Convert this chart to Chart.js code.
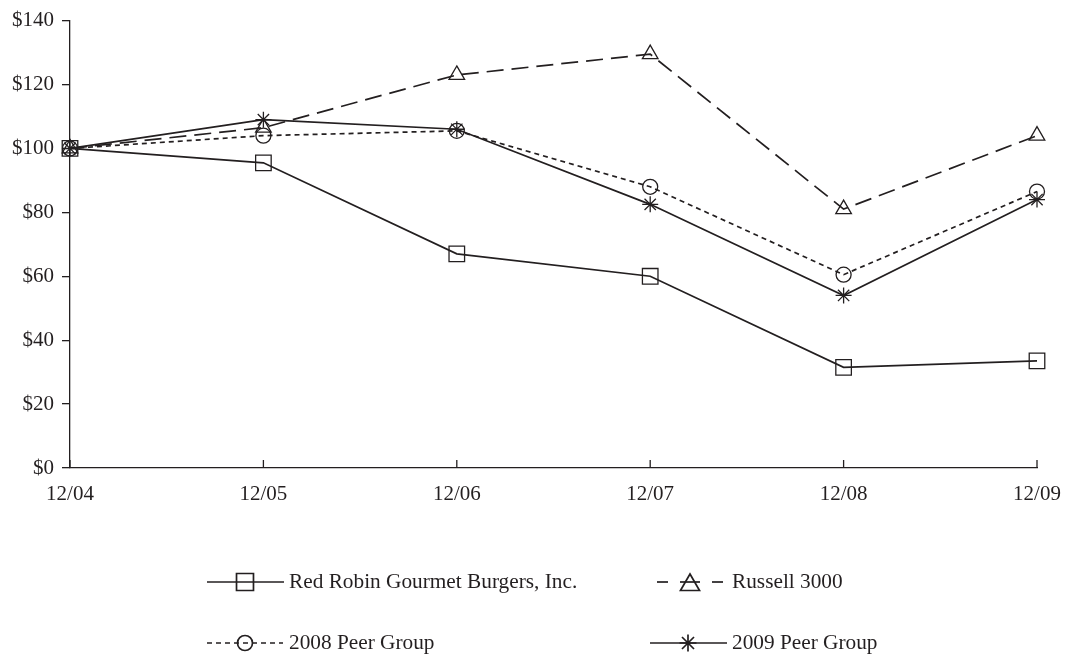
<!DOCTYPE html>
<html><head><meta charset="utf-8">
<script src="https://cdn.jsdelivr.net/npm/chart.js@4.4.1/dist/chart.umd.min.js"></script>
<style>html,body{margin:0;padding:0;background:#fff}#wrap{width:1066px;height:654px}</style>
</head><body><div id="wrap"><canvas id="c" width="1066" height="654"></canvas></div>
<script>
const categories = ['12/04','12/05','12/06','12/07','12/08','12/09'];
const redRobin = [100, 95.5, 67, 60, 31.5, 33.5];
const russell3000 = [100, 106.5, 123, 129.5, 81, 104];
const peer2008 = [100, 104, 105.5, 88, 60.5, 86.5];
const peer2009 = [100, 109, 106, 82.5, 54, 84];
const seriesLabels = ['Red Robin Gourmet Burgers, Inc.', 'Russell 3000', '2008 Peer Group', '2009 Peer Group'];
const yTicks = [0, 20, 40, 60, 80, 100, 120, 140];

const INK = '#231f20';
const FONT = '"Liberation Serif", "Times New Roman", serif';

function ds(label, data, style, radius, dash, legend) {
  return { label, data, borderColor: INK, borderWidth: 1.7, borderDash: dash,
    pointStyle: style, pointRadius: radius, pointHoverRadius: radius,
    pointBorderColor: INK, pointBackgroundColor: 'rgba(0,0,0,0)', pointBorderWidth: 1.3,
    tension: 0, fill: false, legend };
}

const datasets = [
  ds(seriesLabels[0], redRobin, 'rect', 11, [], {x: 207, y: 582, kind: 'solid', r: 12}),
  ds(seriesLabels[1], russell3000, 'triangle', 9, [17, 8], {x: 650, y: 582, kind: 'long', r: 11}),
  ds(seriesLabels[2], peer2008, 'circle', 7.5, [5, 4], {x: 207, y: 643, kind: 'short', r: 7.5}),
  ds(seriesLabels[3], peer2009, 'star', 8, [], {x: 650, y: 643, kind: 'solid', r: 8.5})
];

function seg(ctx, a, b, y) { ctx.beginPath(); ctx.moveTo(a, y); ctx.lineTo(b, y); ctx.stroke(); }

const extras = {
  id: 'extras',
  afterDraw(chart) {
    const ctx = chart.ctx;
    const xs = chart.scales.x;
    const ca = chart.chartArea;
    ctx.save();
    ctx.strokeStyle = INK; ctx.lineWidth = 1.3;
    xs.ticks.forEach((t, i) => {
      const px = xs.getPixelForTick(i);
      ctx.beginPath(); ctx.moveTo(px, ca.bottom); ctx.lineTo(px, ca.bottom - 8); ctx.stroke();
    });
    chart.data.datasets.forEach(d => {
      const p = d.legend;
      ctx.strokeStyle = INK; ctx.lineWidth = 1.7;
      let cx;
      if (p.kind === 'long') {
        seg(ctx, p.x + 7, p.x + 18, p.y);
        seg(ctx, p.x + 30, p.x + 50, p.y);
        seg(ctx, p.x + 62, p.x + 73, p.y);
        cx = p.x + 40;
      } else if (p.kind === 'short') {
        ctx.setLineDash([5, 4]);
        seg(ctx, p.x, p.x + 76, p.y);
        ctx.setLineDash([]);
        cx = p.x + 38;
      } else {
        seg(ctx, p.x, p.x + 77, p.y);
        cx = p.x + 38;
      }
      ctx.fillStyle = 'rgba(0,0,0,0)';
      ctx.strokeStyle = INK;
      const cy = p.kind === 'long' ? p.y + 3 : p.y;
      Chart.helpers.drawPoint(ctx, {pointStyle: d.pointStyle, radius: p.r, borderWidth: 1.3, rotation: 0}, cx, cy);
      ctx.fillStyle = INK; ctx.font = '21.3px ' + FONT; ctx.textBaseline = 'middle'; ctx.textAlign = 'left';
      ctx.fillText(d.label, p.x + 82, p.y);
    });
    ctx.restore();
  }
};

new Chart(document.getElementById('c'), {
  type: 'line',
  data: { labels: categories, datasets },
  options: {
    responsive: false, animation: false, devicePixelRatio: 1,
    layout: { padding: { top: 19, right: 29, left: 0, bottom: 0 } },
    plugins: { legend: { display: false }, tooltip: { enabled: false } },
    scales: {
      x: {
        type: 'category', offset: false,
        grid: { display: true, drawOnChartArea: false, drawTicks: false },
        border: { display: true, color: INK, width: 1.3 },
        ticks: { color: INK, font: { family: FONT, size: 21 }, padding: 14, maxRotation: 0, autoSkip: false },
        afterFit(s) { s.height = 186; s.paddingRight = 0; s.paddingLeft = 0; }
      },
      y: {
        min: 0, max: 140,
        afterBuildTicks(s) { s.ticks = yTicks.map(v => ({ value: v })); },
        grid: { display: true, drawOnChartArea: false, drawTicks: true, tickLength: 8, color: INK, lineWidth: 1.3 },
        border: { display: true, color: INK, width: 1.3 },
        ticks: { color: INK, font: { family: FONT, size: 21 }, padding: 8, callback: v => '$' + v },
        afterFit(s) { s.width = 70; }
      }
    }
  },
  plugins: [extras]
});
</script>
</body></html>
